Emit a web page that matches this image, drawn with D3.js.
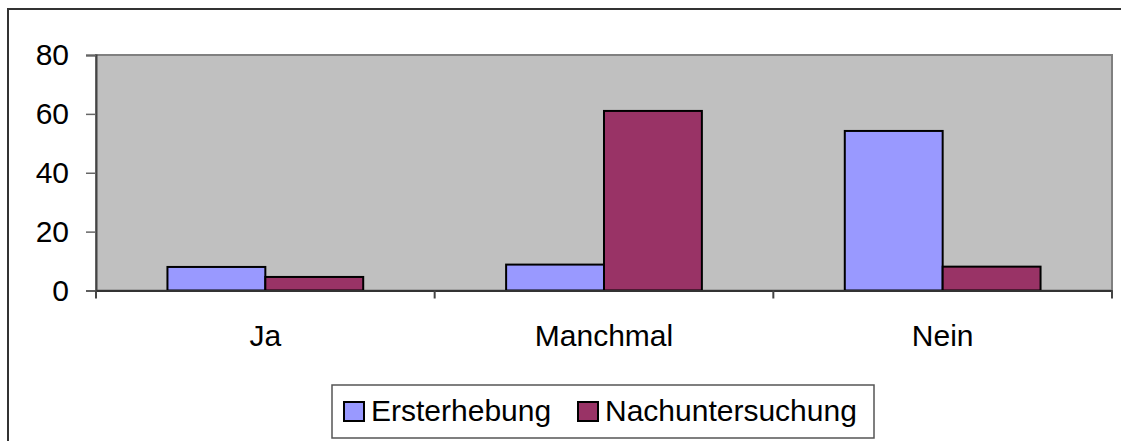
<!DOCTYPE html>
<html>
<head>
<meta charset="utf-8">
<script src="https://cdn.jsdelivr.net/npm/d3@7"></script>
<style>
  html, body { margin: 0; padding: 0; background: #fff; }
  svg { display: block; font-family: Arial, "Liberation Sans", sans-serif; }
</style>
</head>
<body>
<svg id="chart" width="1121" height="441"></svg>
<script>
// Antworten je Kategorie, zwei Erhebungszeitpunkte
const categories = ["Ja", "Manchmal", "Nein"];
const seriesNames = ["Ersterhebung", "Nachuntersuchung"];
const ersterhebung = [8, 8.8, 54.2];
const nachuntersuchung = [4.6, 61, 8.1];
const yTicks = [0, 20, 40, 60, 80];
const colors = ["#9999FF", "#993366"];

const svg = d3.select("#chart");
const plot = { left: 96, right: 1112, top: 55, bottom: 290.5 };
const fontSize = 30;

// Outer chart frame
svg.append("rect")
  .attr("x", 8).attr("y", 9).attr("width", 1125).attr("height", 445)
  .attr("fill", "#fff").attr("stroke", "#333").attr("stroke-width", 2);

const x = d3.scaleBand().domain(categories)
  .range([plot.left, plot.right]).paddingInner(0).paddingOuter(0);
const xInner = d3.scaleBand().domain(seriesNames)
  .range([0, x.bandwidth()]).paddingInner(0).paddingOuter(0.73);
const y = d3.scaleLinear().domain([0, 80]).range([plot.bottom, plot.top]);

// Plot area
svg.append("rect")
  .attr("x", plot.left).attr("y", plot.top)
  .attr("width", plot.right - plot.left).attr("height", plot.bottom - plot.top)
  .attr("fill", "#C0C0C0").attr("stroke", "#808080").attr("stroke-width", 2);

// Bars
const rows = categories.map((c, i) => ({ cat: c, vals: [ersterhebung[i], nachuntersuchung[i]] }));
const groups = svg.append("g").selectAll("g").data(rows).join("g")
  .attr("transform", d => `translate(${x(d.cat)},0)`);
groups.selectAll("rect")
  .data(d => d.vals.map((v, j) => ({ name: seriesNames[j], v, j })))
  .join("rect")
  .attr("x", d => xInner(d.name))
  .attr("y", d => y(d.v))
  .attr("width", xInner.bandwidth())
  .attr("height", d => y(0) - y(d.v))
  .attr("fill", d => colors[d.j])
  .attr("stroke", "#000").attr("stroke-width", 2);

// Y axis
const yAxis = svg.append("g")
  .attr("transform", `translate(${plot.left},0)`)
  .call(d3.axisLeft(y).tickValues(yTicks).tickSize(10).tickPadding(17).tickFormat(d3.format("d")));
yAxis.select(".domain").attr("stroke", "#444").attr("stroke-width", 2);
yAxis.selectAll(".tick line").attr("stroke", "#666").attr("stroke-width", 1.5);
yAxis.selectAll(".tick text").attr("font-size", fontSize).attr("fill", "#000")
  .attr("font-family", "Arial, 'Liberation Sans', sans-serif");

// X axis
const xAxis = svg.append("g")
  .attr("transform", `translate(0,${plot.bottom})`)
  .call(d3.axisBottom(x).tickSize(0).tickPadding(34));
xAxis.select(".domain").attr("stroke", "#333").attr("stroke-width", 2);
xAxis.selectAll(".tick text").attr("font-size", fontSize).attr("fill", "#000")
  .attr("font-family", "Arial, 'Liberation Sans', sans-serif");

// Category separators
const bounds = categories.map(c => x(c)).concat([plot.right]);
svg.append("g").selectAll("line").data(bounds).join("line")
  .attr("x1", d => d).attr("x2", d => d)
  .attr("y1", plot.bottom).attr("y2", plot.bottom + 8)
  .attr("stroke", "#444").attr("stroke-width", 2);

// Legend
const legend = svg.append("g");
legend.append("rect")
  .attr("x", 332).attr("y", 385).attr("width", 542).attr("height", 53)
  .attr("fill", "#fff").attr("stroke", "#555").attr("stroke-width", 1.5);
const legendX = [344, 578];
const items = legend.selectAll("g.item").data(seriesNames).join("g").attr("class", "item")
  .attr("transform", (d, i) => `translate(${legendX[i]},0)`);
items.append("rect")
  .attr("x", 0).attr("y", 402).attr("width", 20).attr("height", 19)
  .attr("fill", (d, i) => colors[i]).attr("stroke", "#000").attr("stroke-width", 2);
items.append("text")
  .attr("x", 27).attr("y", 421)
  .attr("font-size", fontSize).attr("fill", "#000")
  .text(d => d);
</script>
</body>
</html>
